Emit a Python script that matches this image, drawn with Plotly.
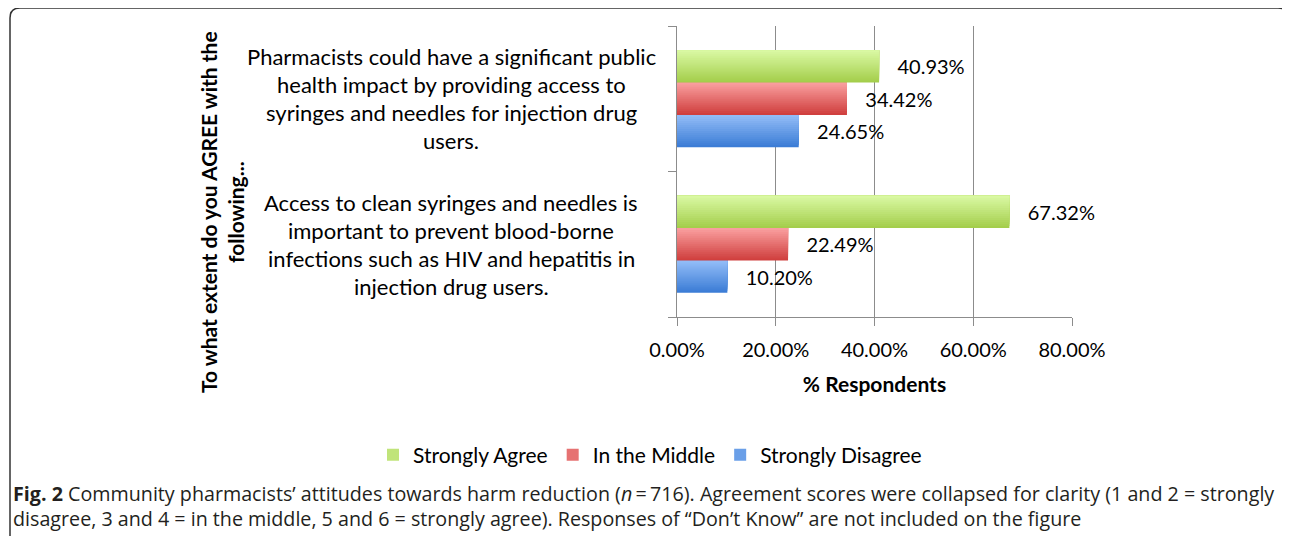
import plotly.graph_objects as go

# ---- data ----
categories = [
    "Access to clean syringes and needles is<br>important to prevent blood-borne<br>infections such as HIV and hepatitis in<br>injection drug users.",
    "Pharmacists could have a significant public<br>health impact by providing access to<br>syringes and needles for injection drug<br>users.",
]
strongly_agree = [67.32, 40.93]
in_the_middle = [22.49, 34.42]
strongly_disagree = [10.20, 24.65]
series_names = ["Strongly Agree", "In the Middle", "Strongly Disagree"]
x_tick_vals = [0, 20, 40, 60, 80]
x_tick_text = ["0.00%", "20.00%", "40.00%", "60.00%", "80.00%"]

# gradient (bottom colour, top colour)
grad = {
    "Strongly Agree": ((0xa4, 0xce, 0x4c), (0xd9, 0xf8, 0xa2)),
    "In the Middle": ((0xd0, 0x40, 0x3f), (0xf9, 0x9e, 0x9e)),
    "Strongly Disagree": ((0x3c, 0x7d, 0xd6), (0x92, 0xbc, 0xf7)),
}

FONT = "Lato"
NB = "\u00a0"
NSLICE = 16
GROUP = 2 / 3            # fraction of category band used by the group
BARW = GROUP / 3

def mix(c0, c1, t):
    return "rgb(%d,%d,%d)" % tuple(round(a + (b - a) * t) for a, b in zip(c0, c1))

fig = go.Figure()
# series from bottom to top within a group
stack = [("Strongly Disagree", strongly_disagree, 3),
         ("In the Middle", in_the_middle, 2),
         ("Strongly Agree", strongly_agree, 1)]
for s, (name, vals, rank) in enumerate(stack):
    c0, c1 = grad[name]
    base_off = -GROUP / 2 + s * BARW
    for j in range(NSLICE):
        # each layer runs from its start up to the bar top; later layers are lighter
        t = j / (NSLICE - 1)
        step = BARW / NSLICE
        fig.add_trace(go.Bar(
            y=categories, x=vals, orientation="h", name=name,
            legendgroup=name, showlegend=(j == NSLICE // 2), legendrank=rank,
            offset=base_off + j * step, width=BARW - j * step,
            marker=dict(color=mix(c0, c1, t), line=dict(width=0)),
            texttemplate=(NB * 3 + "%{x:.2f}%") if j == 0 else None,
            textposition="outside" if j == 0 else "none",
            textfont=dict(family=FONT, size=20, color="#000"),
            constraintext="none", cliponaxis=False,
            hoverinfo="x+name",
        ))

# page has an 8px body margin: work in page coords, convert to figure coords
OFF = 8
W, H = 1290, 536
PL, PR, PT, PB = 677, 1072, 26, 317   # plot area in page coords
L, T = PL - OFF, PT - OFF
R = W - (PR - OFF)
B = H - (PB - OFF)
pw, ph = PR - PL, PB - PT

def px(xp):
    return (xp - PL) / pw

def py(yp):
    return (PB - yp) / ph

annotations = []
# category labels, each line centred
for cat in categories:
    lines = cat.split("<br>")
    n = len(lines)
    for i, ln in enumerate(lines):
        annotations.append(dict(
            xref="paper", yref="y", x=px(451), y=cat, text=ln, showarrow=False,
            xanchor="center", yanchor="middle",
            yshift=((n - 1) / 2 - i) * 28,
            font=dict(family=FONT, size=22, color="#000"),
        ))

# y-axis title
annotations.append(dict(
    xref="paper", yref="paper", x=px(222), y=py(212),
    text="<b>To what extent do you AGREE with the<br>following...</b>",
    textangle=-90, showarrow=False, xanchor="center", yanchor="middle",
    font=dict(family=FONT, size=21, color="#000"),
))
# caption
CAP_FONT = dict(family="Open Sans", size=19.7, color="#231f20")
annotations.append(dict(
    xref="paper", yref="paper", x=px(11), y=py(493), xanchor="left", yanchor="middle",
    text="<b>Fig. 2</b> Community pharmacists\u2019 attitudes towards harm reduction (<i>n</i>\u2009=\u2009716). Agreement scores were collapsed for clarity (1 and 2 = strongly",
    showarrow=False, font=CAP_FONT,
))
annotations.append(dict(
    xref="paper", yref="paper", x=px(11), y=py(518), xanchor="left", yanchor="middle",
    text="disagree, 3 and 4 = in the middle, 5 and 6 = strongly agree). Responses of \u201cDon\u2019t Know\u201d are not included on the figure",
    showarrow=False, font=CAP_FONT,
))

# rounded frame
x0, x1 = px(10), px(1288)
yt, yb = py(8), py(560)
dx, dy = 10 / pw, 10 / ph
path = (f"M {x0},{yb} L {x0},{yt-dy} Q {x0},{yt} {x0+dx},{yt} "
        f"L {x1-dx},{yt} Q {x1},{yt} {x1},{yt-dy} L {x1},{yb}")

fig.update_layout(
    width=W, height=H,
    margin=dict(l=L, r=R, t=T, b=B),
    paper_bgcolor="white", plot_bgcolor="white",
    barmode="overlay",
    showlegend=True,
    legend=dict(orientation="h", x=px(650), xanchor="center",
                y=py(455), yanchor="middle", font=dict(family=FONT, size=21, color="#000"),
                itemwidth=30, bgcolor="rgba(0,0,0,0)"),
    xaxis=dict(range=[0, 80], tickmode="array", tickvals=x_tick_vals, ticktext=x_tick_text,
               showgrid=True, gridcolor="#8c8c8c", gridwidth=1.3,
               showline=True, linecolor="#8c8c8c", linewidth=1.3,
               ticks="outside", ticklen=8, tickcolor="#8c8c8c", tickwidth=1.3,
               zeroline=False, ticklabelstandoff=7,
               tickfont=dict(family=FONT, size=20, color="#000"),
               title=dict(text="<b>% Respondents</b>", standoff=17,
                          font=dict(family=FONT, size=21, color="#000"))),
    yaxis=dict(type="category", categoryorder="array", categoryarray=categories,
               range=[-0.5, 1.5],
               showticklabels=False, showline=True, linecolor="#8c8c8c", linewidth=1.3,
               ticks="outside", tickson="boundaries", ticklen=8, tickcolor="#8c8c8c",
               tickwidth=1.3, showgrid=False, zeroline=False),
    annotations=annotations,
    shapes=[dict(type="path", xref="paper", yref="paper", path=path,
                 line=dict(color="#333333", width=1.5))],
    font=dict(family=FONT),
)

fig.write_html("out.html")
